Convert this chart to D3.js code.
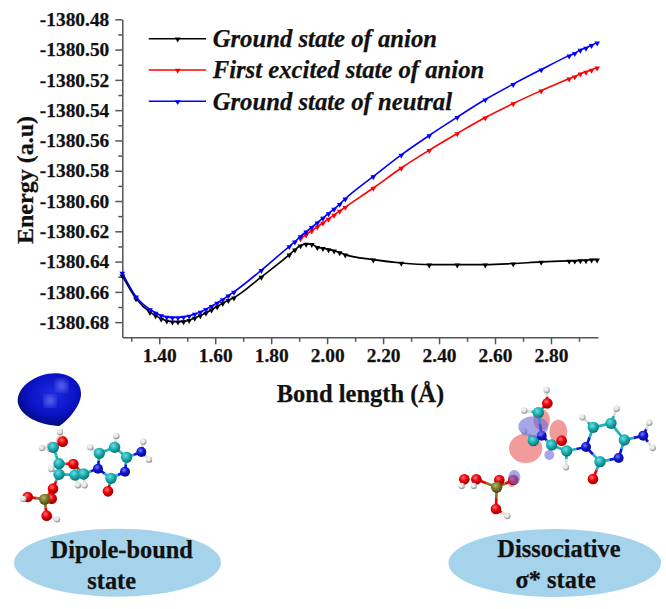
<!DOCTYPE html>
<html lang="en">
<head>
<meta charset="UTF-8">
<title>Energy vs bond length</title>
<style>
    body { margin: 0; background: #fff; }
    svg { display: block; }
    text { font-family: "Liberation Serif", serif; font-weight: bold; fill: #111; stroke: #111; stroke-width: 0.25px; }
    .axis path, .axis line { stroke: #555; stroke-width: 1.5px; }
    .axis text { font-size: 19.4px; font-family: "Liberation Serif", serif; fill: #111; }
    .legend text { font-style: italic; font-size: 24.7px; }
    .curve { fill: none; stroke-width: 1.6px; }
</style>
</head>
<body>
<div id="chart"></div>
<script src="https://d3js.org/d3.v7.min.js"></script>
<script>
    // values, energies are -1380.xxxx
    const bondLower = [1.268, 1.317, 1.367, 1.387, 1.407, 1.427, 1.447, 1.467, 1.487, 1.507, 1.527, 1.547, 1.567, 1.587, 1.607, 1.627, 1.647, 1.667, 1.765, 1.865, 1.885];
    const bondMid = [1.905, 1.925, 1.945, 1.965, 1.985, 2.005, 2.025, 2.045, 2.065];
    const bondUpper = [2.165, 2.265, 2.365, 2.465, 2.565, 2.665, 2.765, 2.865, 2.885, 2.905, 2.925, 2.945, 2.965];

    const groundAnion = [
        -1380.6492, -1380.6644, -1380.6734, -1380.6756, -1380.6778, -1380.6791, -1380.6797, -1380.6797, -1380.6795, -1380.6787, -1380.6772,
        -1380.6756, -1380.6738, -1380.6718, -1380.6697, -1380.6675, -1380.6655, -1380.6638, -1380.6501, -1380.6354, -1380.6321,
        -1380.6294, -1380.6283, -1380.6285, -1380.6305, -1380.6312, -1380.6320, -1380.6328, -1380.6340, -1380.6354,
        -1380.6387, -1380.6409, -1380.6420, -1380.6420, -1380.6420, -1380.6413, -1380.6402, -1380.6395, -1380.6395, -1380.6392, -1380.6392, -1380.6387, -1380.6387
    ];
    const excitedAnion = [
        -1380.6248, -1380.6222, -1380.6196, -1380.6170, -1380.6144, -1380.6118, -1380.6092, -1380.6066, -1380.6040,
        -1380.5914, -1380.5782, -1380.5664, -1380.5554, -1380.5449, -1380.5356, -1380.5271, -1380.5192, -1380.5178, -1380.5159, -1380.5147, -1380.5134, -1380.5119
    ];
    const groundNeutral = [
        -1380.6475, -1380.6632, -1380.6716, -1380.6738, -1380.6756, -1380.6765, -1380.6769, -1380.6769, -1380.6765, -1380.6758, -1380.6746,
        -1380.6732, -1380.6714, -1380.6694, -1380.6672, -1380.6650, -1380.6625, -1380.6600, -1380.6457, -1380.6299, -1380.6268,
        -1380.6233, -1380.6203, -1380.6172, -1380.6142, -1380.6112, -1380.6082, -1380.6052, -1380.6020, -1380.5985,
        -1380.5838, -1380.5695, -1380.5567, -1380.5446, -1380.5330, -1380.5228, -1380.5132, -1380.5040, -1380.5024, -1380.5002, -1380.4989, -1380.4971, -1380.4954
    ];

    const xMajor = [1.4, 1.6, 1.8, 2.0, 2.2, 2.4, 2.6, 2.8];
    const xMinor = [1.3, 1.5, 1.7, 1.9, 2.1, 2.3, 2.5, 2.7, 2.9];
    const yMajor = [-1380.48, -1380.50, -1380.52, -1380.54, -1380.56, -1380.58, -1380.60, -1380.62, -1380.64, -1380.66, -1380.68];
    const yMinor = [-1380.49, -1380.51, -1380.53, -1380.55, -1380.57, -1380.59, -1380.61, -1380.63, -1380.65, -1380.67];

    const seriesNames = ["Ground state of anion", "First excited state of anion", "Ground state of neutral"];
    const seriesColors = ["#000000", "#ff0000", "#0000ff"];

    const bondAll = bondLower.concat(bondMid, bondUpper);
    const bondExcited = bondMid.concat(bondUpper);
    const series = [
        d3.zip(bondAll, groundAnion),
        d3.zip(bondExcited, excitedAnion),
        d3.zip(bondAll, groundNeutral)
    ];

    const width = 666, height = 609;
    const svg = d3.select("#chart").append("svg")
        .attr("width", width)
        .attr("height", height);

    const x = d3.scaleLinear().domain([1.268, 2.968]).range([122.3, 598]);
    const y = d3.scaleLinear().domain([-1380.69, -1380.48]).range([337.3, 19.3]);

    // axes
    svg.append("g").attr("class", "axis")
        .attr("transform", "translate(0,337.3)")
        .call(d3.axisBottom(x).tickValues(xMinor).tickSize(4.5).tickFormat(""))
        .call(g => g.select(".domain").remove());
    svg.append("g").attr("class", "axis")
        .attr("transform", "translate(0,337.3)")
        .call(d3.axisBottom(x).tickValues(xMajor).tickSize(7).tickSizeOuter(0).tickPadding(4).tickFormat(d3.format(".2f")));
    svg.append("g").attr("class", "axis")
        .attr("transform", "translate(122.3,0)")
        .call(d3.axisLeft(y).tickValues(yMinor).tickSize(4).tickFormat(""))
        .call(g => g.select(".domain").remove());
    svg.append("g").attr("class", "axis")
        .attr("transform", "translate(122.3,0)")
        .call(d3.axisLeft(y).tickValues(yMajor).tickSize(7).tickSizeOuter(0).tickPadding(6).tickFormat(d => d.toFixed(2)));

    svg.append("text")
        .attr("transform", "translate(32.5,180) rotate(-90)")
        .attr("text-anchor", "middle")
        .style("font-size", "24px")
        .text("Energy (a.u)");
    svg.append("text")
        .attr("x", 360.5).attr("y", 402)
        .attr("text-anchor", "middle")
        .style("font-size", "24.5px")
        .text("Bond length (Å)");

    // curves
    const line = d3.line().x(d => x(d[0])).y(d => y(d[1])).curve(d3.curveMonotoneX);
    const tri = d3.symbol().type(d3.symbolTriangle).size(14);

    series.forEach((pts, i) => {
        svg.append("path")
            .attr("class", "curve")
            .attr("stroke", seriesColors[i])
            .attr("d", line(pts));
        svg.append("g").selectAll("path")
            .data(pts)
            .join("path")
            .attr("d", tri)
            .attr("fill", seriesColors[i])
            .attr("transform", d => `translate(${x(d[0])},${y(d[1]) + 0.5}) rotate(180)`);
    });

    // legend
    const legendRows = [38.7, 70, 101.3];
    const legend = svg.append("g").attr("class", "legend");
    seriesNames.forEach((name, i) => {
        legend.append("line")
            .attr("x1", 148.7).attr("x2", 206)
            .attr("y1", legendRows[i]).attr("y2", legendRows[i])
            .attr("stroke", seriesColors[i])
            .attr("stroke-width", 1.6);
        legend.append("path")
            .attr("d", tri)
            .attr("fill", seriesColors[i])
            .attr("transform", `translate(177.7,${legendRows[i] + 0.5}) rotate(180)`);
        legend.append("text")
            .attr("x", 212.7)
            .attr("y", legendRows[i] + 8.3)
            .text(name);
    });

    // molecule drawings (ball and stick), coords in 3x units of the panel
    const defs = svg.append("defs");
    const atomColors = { C: "#17b4b8", O: "#f00008", N: "#0c14d8", P: "#7d7a22", H: "#e8e8e8" };
    Object.entries(atomColors).forEach(([k, c]) => {
        const g = defs.append("radialGradient").attr("id", "atom" + k)
            .attr("cx", "0.4").attr("cy", "0.35").attr("r", "0.7");
        g.append("stop").attr("offset", "0").attr("stop-color", d3.interpolateRgb(c, "#fff")(0.45));
        g.append("stop").attr("offset", "0.45").attr("stop-color", c);
        g.append("stop").attr("offset", "1").attr("stop-color", d3.interpolateRgb(c, "#000")(0.45));
    });
    defs.append("filter").attr("id", "soft").append("feGaussianBlur").attr("stdDeviation", 0.9);
    defs.append("filter").attr("id", "softer").append("feGaussianBlur").attr("stdDeviation", 9);
    const atomSize = { C: 17, O: 16, N: 15, P: 17, H: 9.5 };

    function drawMolecule(parent, atoms, bonds) {
        const g = parent.append("g").attr("filter", "url(#soft)");
        bonds.forEach(([a, b]) => {
            const p = atoms[a], q = atoms[b];
            const mx = (p[1] + q[1]) / 2, my = (p[2] + q[2]) / 2;
            [[p, mx, my], [q, mx, my]].forEach(([s, ex, ey]) => {
                g.append("line")
                    .attr("x1", s[1]).attr("y1", s[2]).attr("x2", ex).attr("y2", ey)
                    .attr("stroke", s[0] === "H" ? "#ddd" : atomColors[s[0]])
                    .attr("stroke-width", 8);
            });
        });
        g.selectAll("circle")
            .data(Object.values(atoms))
            .join("circle")
            .attr("cx", d => d[1]).attr("cy", d => d[2])
            .attr("r", d => atomSize[d[0]])
            .attr("fill", d => `url(#atom${d[0]})`);
    }

    const leftAtoms = {
        c1: ["C", 130, 82], c2: ["C", 147, 131], c3: ["C", 147, 163], c4: ["C", 195, 165], c5: ["C", 221, 162],
        c6: ["C", 268, 100], c7: ["C", 314, 82], c8: ["C", 350, 112], c9: ["C", 303, 175],
        o1: ["O", 158, 65], o2: ["O", 190, 132], o3: ["O", 129, 206], o4: ["O", 53, 231], o5: ["O", 125, 236], o6: ["O", 110, 287], o7: ["O", 294, 214],
        n1: ["N", 264, 146], n2: ["N", 345, 155], n3: ["N", 394, 96],
        p: ["P", 104, 238],
        h1: ["H", 150, 36], h2: ["H", 96, 84], h3: ["H", 124, 147], h4: ["H", 204, 196], h5: ["H", 224, 196],
        h6: ["H", 241, 82], h7: ["H", 319, 48], h8: ["H", 400, 65], h9: ["H", 417, 119], h10: ["H", 40, 237], h11: ["H", 141, 298]
    };
    const leftBonds = [["c1","o1"],["c1","c2"],["c2","c3"],["c2","o2"],["o2","c5"],["c3","c4"],["c4","c5"],["c5","n1"],["n1","c6"],["c6","c7"],["c7","c8"],["c8","n2"],["n2","c9"],["c9","n1"],["c9","o7"],["c8","n3"],["c3","o3"],["o3","p"],["p","o4"],["p","o5"],["p","o6"],["o1","h1"],["c1","h2"],["c3","h3"],["c4","h4"],["c5","h5"],["c6","h6"],["c7","h7"],["n3","h8"],["n3","h9"],["o4","h10"],["o6","h11"]];

    const rightAtoms = {
        c1: ["C", 325, 128], c2: ["C", 310, 212], c3: ["C", 365, 225], c4: ["C", 410, 243], c5: ["C", 510, 275],
        c6: ["C", 490, 172], c7: ["C", 543, 160], c8: ["C", 583, 210],
        o1: ["O", 352, 100], o2: ["O", 395, 212], o3: ["O", 489, 327], o4: ["O", 103, 328], o5: ["O", 139, 328], o6: ["O", 208, 330], o7: ["O", 250, 330], o8: ["O", 198, 417],
        n1: ["N", 335, 197], n2: ["N", 468, 231], n3: ["N", 566, 264], n4: ["N", 640, 197],
        p: ["P", 200, 352],
        h1: ["H", 350, 60], h2: ["H", 283, 122], h3: ["H", 282, 183], h4: ["H", 408, 292], h5: ["H", 457, 142], h6: ["H", 560, 116],
        h7: ["H", 658, 158], h8: ["H", 668, 234], h9: ["H", 95, 348], h10: ["H", 131, 348], h11: ["H", 232, 438]
    };
    const rightBonds = [["c1","o1"],["o1","h1"],["c1","h2"],["c1","n1"],["n1","c2"],["n1","c3"],["c2","h3"],["c3","c4"],["c4","n2"],["c4","h4"],["n2","c5"],["n2","c6"],["c6","c7"],["c7","c8"],["c8","n3"],["n3","c5"],["c5","o3"],["c8","n4"],["n4","h7"],["n4","h8"],["c6","h5"],["c7","h6"],["o4","h9"],["o5","h10"],["o5","p"],["o6","p"],["o7","p"],["o8","p"],["o8","h11"]];

    // left panel
    const leftPanel = svg.append("g").attr("transform", "translate(0,370) scale(0.3333)");
    const blobGrad = defs.append("radialGradient").attr("id", "blob")
        .attr("cx", "0.55").attr("cy", "0.4").attr("r", "0.65");
    blobGrad.append("stop").attr("offset", "0").attr("stop-color", "#1c2be0");
    blobGrad.append("stop").attr("offset", "0.6").attr("stop-color", "#0a12c4");
    blobGrad.append("stop").attr("offset", "1").attr("stop-color", "#020a6c");
    leftPanel.append("path")
        .attr("d", "M178,168 C120,165 60,140 53,95 C50,50 110,10 165,10 C215,10 245,40 243,75 C240,110 205,150 178,168 Z")
        .attr("fill", "url(#blob)");
    [[185, 47], [150, 93]].forEach(([cx, cy]) => {
        leftPanel.append("circle").attr("cx", cx).attr("cy", cy).attr("r", 17)
            .attr("fill", "#6f7cf0").attr("opacity", 0.8).attr("filter", "url(#softer)");
    });
    leftPanel.selectAll("circle.halo").data([[185, 212], [155, 232]]).join("circle")
        .attr("class", "halo")
        .attr("cx", d => d[0]).attr("cy", d => d[1]).attr("r", 17)
        .attr("fill", "#f26d6d").attr("opacity", 0.5);
    drawMolecule(svg.append("g").attr("transform", "translate(10,420) scale(0.3333)"), leftAtoms, leftBonds);

    // right panel, orbital lobes behind and over the atoms
    const rightPanel = svg.append("g").attr("transform", "translate(430,370) scale(0.3333)");
    const pinkLobes = [[287, 235, 50, 44], [385, 185, 27, 36], [335, 150, 25, 32], [245, 335, 12, 16]];
    const blueLobes = [[310, 170, 45, 31], [358, 255, 15, 15], [253, 322, 18, 22]];
    rightPanel.selectAll("ellipse.pink").data(pinkLobes).join("ellipse")
        .attr("class", "pink")
        .attr("cx", d => d[0]).attr("cy", d => d[1]).attr("rx", d => d[2]).attr("ry", d => d[3])
        .attr("fill", "#f09090").attr("opacity", 0.9);
    drawMolecule(rightPanel.append("g"), rightAtoms, rightBonds);
    rightPanel.selectAll("ellipse.blue").data(blueLobes).join("ellipse")
        .attr("class", "blue")
        .attr("cx", d => d[0]).attr("cy", d => d[1]).attr("rx", d => d[2]).attr("ry", d => d[3])
        .attr("fill", "#6a6ad8").attr("opacity", 0.6);

    // state captions
    const bubbles = [
        { cx: 117.5, cy: 562.7, rx: 103.5, ry: 34, lines: [["Dipole-bound", 121.7, 558], ["state", 111.7, 589]] },
        { cx: 554.7, cy: 563, rx: 106.3, ry: 34, lines: [["Dissociative", 559, 556.7], ["σ* state", 555.7, 588]] }
    ];
    bubbles.forEach(b => {
        svg.append("ellipse")
            .attr("cx", b.cx).attr("cy", b.cy).attr("rx", b.rx).attr("ry", b.ry)
            .attr("fill", "#a6d3ec");
        b.lines.forEach(([t, tx, ty]) => {
            svg.append("text")
                .attr("x", tx).attr("y", ty)
                .attr("text-anchor", "middle")
                .style("font-size", "24.4px")
                .text(t);
        });
    });
</script>
</body>
</html>
